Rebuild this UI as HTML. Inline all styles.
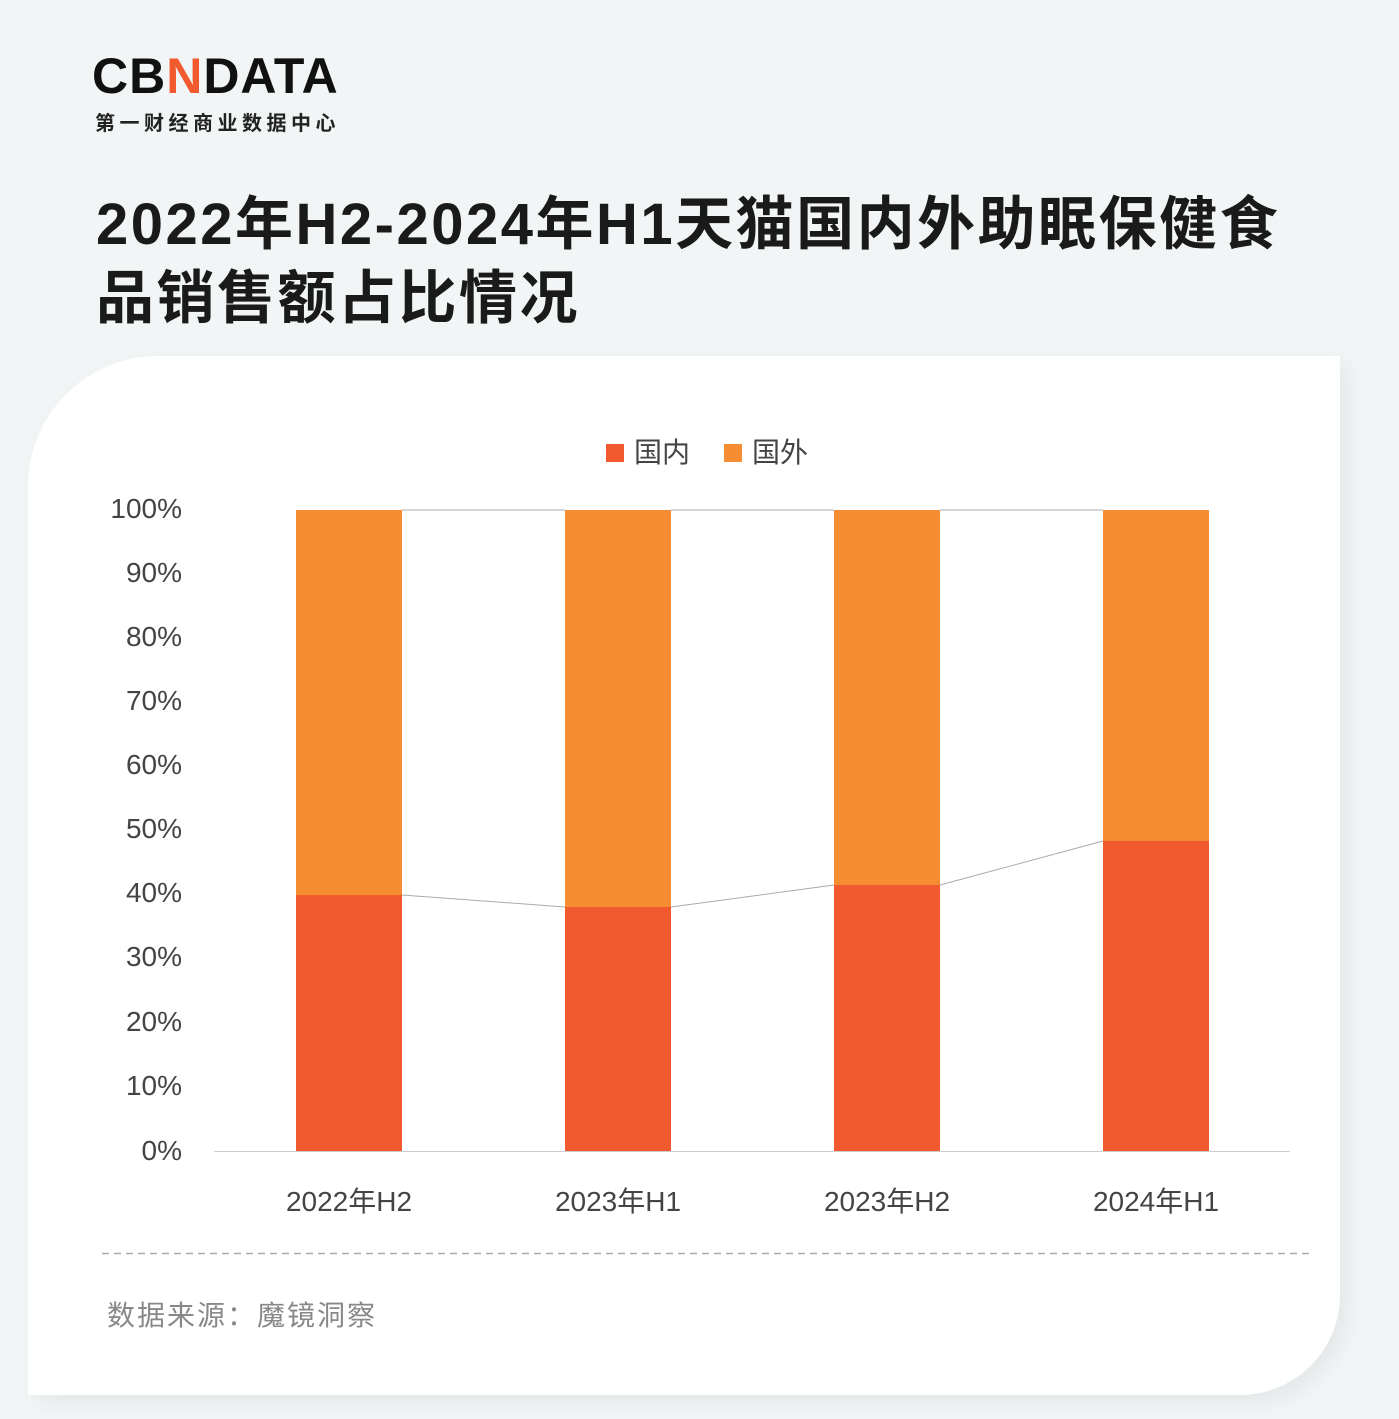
<!DOCTYPE html>
<html><head><meta charset="utf-8"><style>
body{margin:0;width:1399px;height:1419px;background:#f1f5f6;position:relative;overflow:hidden;font-family:"Liberation Sans","Noto Sans CJK SC",sans-serif}
.card{position:absolute;left:28px;top:356px;width:1312px;height:1039px;background:#fff;border-radius:130px 0 100px 0;box-shadow:8px 8px 24px rgba(0,0,0,0.06)}
.t{position:absolute;white-space:nowrap}
</style></head><body>
<div class="t" style="left:92px;top:48px;font-size:50px;font-weight:bold;letter-spacing:1px;color:#111;line-height:56px">CB<span style="color:#f15a2f">N</span>DATA</div>
<div class="t" style="left:95px;top:107px;font-size:20px;letter-spacing:4.5px;color:#222;font-family:'Noto Sans CJK SC',sans-serif;font-weight:bold">第一财经商业数据中心</div>
<div class="t" style="left:96px;top:188px;font-size:58px;font-weight:bold;color:#1a1a1a;line-height:74px;letter-spacing:2.5px;font-family:'Liberation Sans','Noto Sans CJK SC',sans-serif">2022年H2-2024年H1天猫国内外助眠保健食<br>品销售额占比情况</div>
<div class="card"></div>
<svg class="t" style="left:0;top:0" width="1399" height="1419">
<g font-family="Liberation Sans, Noto Sans CJK SC, sans-serif" font-size="28" fill="#444">
<rect x="606" y="444" width="18" height="18" fill="#f15a2f"/><text x="634" y="462">国内</text>
<rect x="724" y="444" width="18" height="18" fill="#f78d33"/><text x="752" y="462">国外</text>
<g text-anchor="end">
<text x="182" y="518">100%</text><text x="182" y="582">90%</text><text x="182" y="646">80%</text><text x="182" y="710">70%</text><text x="182" y="774">60%</text><text x="182" y="838">50%</text><text x="182" y="902">40%</text><text x="182" y="966">30%</text><text x="182" y="1031">20%</text><text x="182" y="1095">10%</text><text x="182" y="1160">0%</text>
</g>
<g text-anchor="middle">
<text x="349" y="1211">2022年H2</text><text x="618" y="1211">2023年H1</text><text x="887" y="1211">2023年H2</text><text x="1156" y="1211">2024年H1</text>
</g>
<text x="107" y="1325" fill="#888" letter-spacing="2">数据来源：魔镜洞察</text>
</g>
<line x1="214" y1="1151.5" x2="1290" y2="1151.5" stroke="#ccc"/>
<g>
<rect x="296" y="510" width="106" height="385" fill="#f78d33"/><rect x="296" y="895" width="106" height="256" fill="#f15a2f"/>
<rect x="565" y="510" width="106" height="397" fill="#f78d33"/><rect x="565" y="907" width="106" height="244" fill="#f15a2f"/>
<rect x="834" y="510" width="106" height="375" fill="#f78d33"/><rect x="834" y="885" width="106" height="266" fill="#f15a2f"/>
<rect x="1103" y="510" width="106" height="331" fill="#f78d33"/><rect x="1103" y="841" width="106" height="310" fill="#f15a2f"/>
</g>
<g stroke="#aaa" stroke-width="1" fill="none">
<path d="M402 510H565M671 510H834M940 510H1103"/>
<path d="M402 895L565 907M671 907L834 885M940 885L1103 841"/>
</g>
<line x1="102" y1="1253.5" x2="1314" y2="1253.5" stroke="#aaa" stroke-width="1.5" stroke-dasharray="7 5"/>
</svg>
</body></html>
